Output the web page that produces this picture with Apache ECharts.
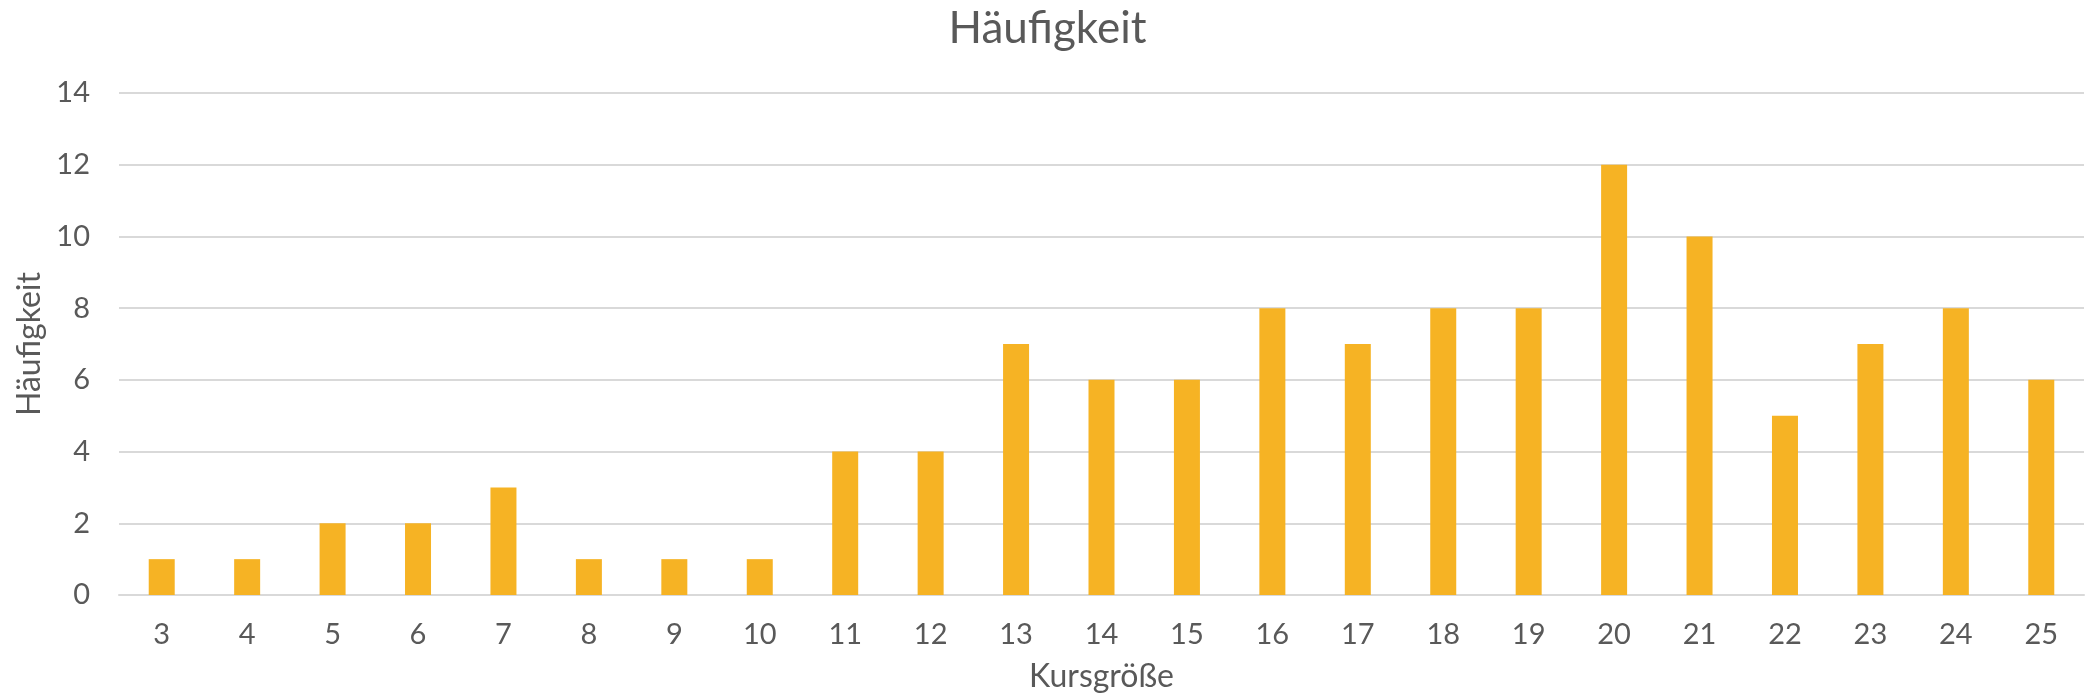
<!DOCTYPE html>
<html>
<head>
<meta charset="utf-8">
<title>Häufigkeit</title>
<script src="https://cdn.jsdelivr.net/npm/echarts@6/dist/echarts.min.js"></script>
<style>
  html, body { margin: 0; padding: 0; background: #fff; }
  #chart { width: 2095px; height: 700px; }
</style>
</head>
<body>
<div id="chart"></div>
<script>
// Kursgröße -> Häufigkeit
const kursgroessen = ["3", "4", "5", "6", "7", "8", "9", "10", "11", "12", "13", "14", "15", "16", "17", "18", "19", "20", "21", "22", "23", "24", "25"];
const haeufigkeit = [1, 1, 2, 2, 3, 1, 1, 1, 4, 4, 7, 6, 6, 8, 7, 8, 8, 12, 10, 5, 7, 8, 6];

const textColor = "#595959";
const fontFamily = "Lato, 'Open Sans', sans-serif";

const myChart = echarts.init(document.getElementById("chart"));

const option = {
  animation: false,
  title: {
    text: "Häufigkeit",
    left: "center",
    top: 2,
    textStyle: { color: textColor, fontSize: 44, fontWeight: "normal", fontFamily: fontFamily },
  },
  grid: { left: 119, right: 11, top: 93, bottom: 105 },
  xAxis: {
    type: "category",
    data: kursgroessen,
    name: "Kursgröße",
    nameLocation: "middle",
    nameGap: 66,
    nameTextStyle: { color: textColor, fontSize: 32, fontFamily: fontFamily },
    axisLine: { show: true, lineStyle: { color: "#d9d9d9", width: 2 } },
    axisTick: { show: false },
    axisLabel: { color: textColor, fontSize: 29, fontFamily: fontFamily, margin: 25 },
  },
  yAxis: {
    type: "value",
    min: 0,
    max: 14,
    interval: 2,
    name: "Häufigkeit",
    nameLocation: "middle",
    nameGap: 68,
    nameTextStyle: { color: textColor, fontSize: 32, fontFamily: fontFamily },
    axisLine: { show: false },
    axisTick: { show: false },
    axisLabel: { color: textColor, fontSize: 29, fontFamily: fontFamily, margin: 29 },
    splitLine: { lineStyle: { color: "#d9d9d9", width: 2 } },
  },
  series: [
    {
      name: "Häufigkeit",
      type: "bar",
      data: haeufigkeit,
      barWidth: 26,
      itemStyle: { color: "#F6B324" },
    },
  ],
};

myChart.setOption(option);
</script>
</body>
</html>
